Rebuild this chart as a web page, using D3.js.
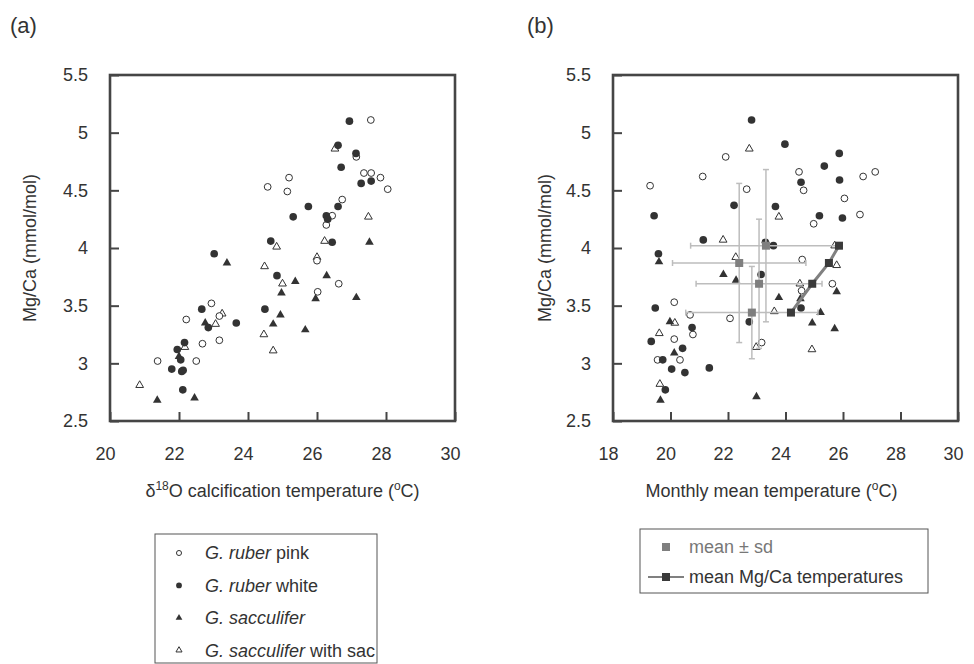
<!DOCTYPE html>
<html><head><meta charset="utf-8">
<script src="https://cdn.jsdelivr.net/npm/d3@7"></script>
<style>body{margin:0;background:#fff}svg{display:block;font-family:"Liberation Sans",Arial,sans-serif}</style>
</head><body><svg id="c" width="974" height="664"></svg>
<script>
// ---- tick values ----
const yTicks = [2.5, 3, 3.5, 4, 4.5, 5, 5.5];
const aXTicks = [20, 22, 24, 26, 28, 30];
const bXTicks = [18, 20, 22, 24, 26, 28, 30];

// ---- panel (a): [d18O calcification temperature, Mg/Ca] ----
const aPink = [[24.57,4.53],[25.19,4.61],[25.14,4.49],[27.56,5.11],[27.14,4.79],[27.36,4.65],[27.57,4.65],[27.84,4.61],[28.05,4.51],[26.73,4.42],[26.44,4.28],[26.27,4.20],[26.0,3.89],[26.63,3.69],[26.02,3.62],[22.94,3.52],[22.21,3.38],[23.17,3.41],[22.68,3.17],[23.17,3.20],[21.38,3.02],[22.50,3.02]];
const aWhite = [[24.66,4.06],[26.94,5.10],[26.61,4.89],[27.13,4.82],[26.70,4.70],[27.28,4.56],[27.57,4.58],[25.75,4.36],[26.61,4.36],[25.31,4.27],[26.27,4.28],[26.31,4.25],[26.44,4.05],[23.02,3.95],[24.84,3.76],[24.49,3.47],[22.66,3.47],[22.85,3.31],[23.66,3.35],[22.16,3.18],[21.95,3.12],[22.05,3.03],[21.79,2.95],[22.08,2.93],[22.12,2.94],[22.11,2.77]];
const aSacc = [[27.52,4.05],[26.28,3.76],[25.37,3.71],[24.97,3.61],[25.96,3.56],[27.14,3.57],[24.94,3.42],[25.66,3.29],[23.39,3.87],[24.73,3.34],[22.76,3.35],[22.0,3.06],[21.37,2.68],[22.45,2.70]];
const aSac = [[26.52,4.86],[27.49,4.27],[26.22,4.06],[24.83,4.01],[26.0,3.92],[25.0,3.69],[24.48,3.84],[24.46,3.25],[24.73,3.11],[23.25,3.43],[23.06,3.34],[22.17,3.14],[20.86,2.81]];

// ---- panel (b): [monthly mean temperature, Mg/Ca] ----
const bPink = [[21.92,4.79],[21.12,4.62],[19.29,4.54],[22.65,4.51],[24.47,4.66],[27.12,4.66],[26.70,4.62],[24.63,4.50],[26.05,4.43],[26.59,4.29],[24.98,4.21],[24.58,3.90],[25.63,3.69],[24.56,3.63],[23.17,3.18],[20.68,3.42],[22.07,3.39],[20.13,3.53],[20.78,3.25],[20.13,3.21],[19.55,3.03],[20.33,3.03]];
const bWhite = [[22.82,5.11],[22.21,4.37],[19.43,4.28],[21.14,4.07],[23.30,4.05],[23.98,4.90],[25.87,4.82],[25.35,4.71],[24.54,4.57],[25.88,4.59],[23.65,4.36],[25.18,4.28],[25.98,4.26],[23.58,4.02],[19.58,3.95],[23.15,3.77],[24.54,3.48],[22.74,3.36],[19.47,3.48],[20.75,3.31],[19.33,3.19],[20.42,3.13],[19.73,3.03],[20.04,2.95],[20.50,2.92],[21.35,2.96],[19.82,2.77]];
const bSacc = [[19.60,3.88],[21.84,3.77],[22.28,3.72],[25.78,3.62],[23.77,3.57],[24.52,3.56],[25.22,3.44],[24.93,3.35],[25.71,3.30],[19.98,3.36],[20.13,3.09],[19.65,2.68],[22.99,2.71]];
const bSac = [[22.74,4.86],[21.83,4.07],[23.77,4.27],[25.71,4.02],[22.27,3.92],[25.78,3.85],[24.50,3.69],[23.61,3.45],[24.92,3.12],[20.15,3.35],[19.61,3.26],[22.98,3.14],[19.63,2.82]];

// mean ± sd (gray) and mean Mg/Ca temperatures (dark)
const meanT = [23.32, 22.39, 23.08, 22.83];
const sdT   = [2.62, 2.32, 2.19, 2.30];
const meanMg = [4.02, 3.87, 3.69, 3.44];
const sdMg  = [0.66, 0.69, 0.56, 0.40];
const mgTemp = [25.86, 25.51, 24.93, 24.19];

const INK = "#333", FRAME = "#454545";
const svg = d3.select("#c");
const fmt = d3.format("~g");

function drawPoints(g, x, y, data, kind) {
  const sel = g.append("g").selectAll("path").data(data).join("path")
    .attr("transform", d => `translate(${x(d[0])},${y(d[1])})`);
  if (kind === "openCircle") sel.attr("d", d3.symbol(d3.symbolCircle, 36)).attr("fill", "#fff").attr("stroke", INK).attr("stroke-width", 1);
  if (kind === "fillCircle") sel.attr("d", d3.symbol(d3.symbolCircle, 46)).attr("fill", INK);
  if (kind === "fillTri") sel.attr("d", d3.symbol(d3.symbolTriangle, 32)).attr("fill", INK);
  if (kind === "openTri") sel.attr("d", d3.symbol(d3.symbolTriangle, 26)).attr("fill", "#fff").attr("stroke", INK).attr("stroke-width", 1);
}

function panel(cfg) {
  const x = d3.scaleLinear().domain(cfg.xd).range(cfg.xr);
  const y = d3.scaleLinear().domain([2.5, 5.5]).range([421, 75]);
  const g = svg.append("g");
  const ax = g.append("g").attr("transform", "translate(0,421)")
    .call(d3.axisBottom(x).tickValues(cfg.xt).tickFormat(fmt).tickSizeInner(-9).tickSizeOuter(0).tickPadding(26));
  ax.selectAll("text").attr("dx", cfg.xdx);
  const ay = g.append("g").attr("transform", `translate(${cfg.xr[0]},0)`)
    .call(d3.axisLeft(y).tickValues(yTicks).tickFormat(fmt).tickSizeInner(-9).tickSizeOuter(0).tickPadding(22));
  [ax, ay].forEach(a => {
    a.select(".domain").remove();
    a.selectAll("line").attr("stroke", FRAME).attr("stroke-width", 2);
    a.selectAll("text").attr("fill", INK).style("font-size", "18px").style("font-family", '"Liberation Sans",Arial,sans-serif');
  });
  g.append("rect").attr("x", cfg.xr[0]).attr("y", 75).attr("width", cfg.xr[1] - cfg.xr[0]).attr("height", 346)
    .attr("fill", "none").attr("stroke", FRAME).attr("stroke-width", 2.6);
  g.append("text").attr("transform", `translate(${cfg.ytx},248) rotate(-90)`).attr("text-anchor", "middle")
    .attr("dy", "0.35em").attr("fill", INK).style("font-size", "18px").text("Mg/Ca (mmol/mol)");
  const xt = g.append("text").attr("x", (cfg.xr[0] + cfg.xr[1]) / 2 + cfg.xtdx).attr("y", 497).attr("text-anchor", "middle")
    .attr("fill", INK).style("font-size", "18px");
  cfg.xtitle(xt);
  g.append("text").attr("x", cfg.lx).attr("y", 33).attr("fill", INK).style("font-size", "22px").text(cfg.letter);
  return { g, x, y };
}

// ---- panel (a) ----
const A = panel({
  xd: [20, 30], xr: [110, 455], xt: aXTicks, xdx: -5, ytx: 30, xtdx: 0, lx: 10, letter: "(a)",
  xtitle: t => {
    t.append("tspan").text("δ");
    t.append("tspan").attr("dy", -7).style("font-size", "12px").text("18");
    t.append("tspan").attr("dy", 7).text("O calcification temperature (");
    t.append("tspan").attr("dy", -7).style("font-size", "12px").text("o");
    t.append("tspan").attr("dy", 7).text("C)");
  }
});
drawPoints(A.g, A.x, A.y, aSac, "openTri");
drawPoints(A.g, A.x, A.y, aPink, "openCircle");
drawPoints(A.g, A.x, A.y, aSacc, "fillTri");
drawPoints(A.g, A.x, A.y, aWhite, "fillCircle");

// ---- panel (b) ----
const B = panel({
  xd: [18, 30], xr: [613, 958], xt: bXTicks, xdx: -5, ytx: 545, xtdx: -14, lx: 527, letter: "(b)",
  xtitle: t => {
    t.append("tspan").text("Monthly mean temperature (");
    t.append("tspan").attr("dy", -7).style("font-size", "12px").text("o");
    t.append("tspan").attr("dy", 7).text("C)");
  }
});
drawPoints(B.g, B.x, B.y, bSac, "openTri");
drawPoints(B.g, B.x, B.y, bPink, "openCircle");
drawPoints(B.g, B.x, B.y, bSacc, "fillTri");
drawPoints(B.g, B.x, B.y, bWhite, "fillCircle");

const stats = meanT.map((t, i) => ({ t, st: sdT[i], m: meanMg[i], sm: sdMg[i], mt: mgTemp[i] }));
const eb = B.g.append("g").attr("stroke", "#bdbdbd").attr("stroke-width", 1.5).attr("fill", "none");
stats.forEach(d => {
  const cx = B.x(d.t), cy = B.y(d.m);
  const xl = B.x(d.t - d.st), xh = B.x(d.t + d.st), yl = B.y(d.m - d.sm), yh = B.y(d.m + d.sm);
  eb.append("line").attr("x1", xl).attr("x2", xh).attr("y1", cy).attr("y2", cy);
  eb.append("line").attr("x1", cx).attr("x2", cx).attr("y1", yl).attr("y2", yh);
  eb.append("line").attr("x1", xl).attr("x2", xl).attr("y1", cy - 3).attr("y2", cy + 3);
  eb.append("line").attr("x1", xh).attr("x2", xh).attr("y1", cy - 3).attr("y2", cy + 3);
  eb.append("line").attr("x1", cx - 3).attr("x2", cx + 3).attr("y1", yl).attr("y2", yl);
  eb.append("line").attr("x1", cx - 3).attr("x2", cx + 3).attr("y1", yh).attr("y2", yh);
});
B.g.append("g").selectAll("rect").data(stats).join("rect")
  .attr("x", d => B.x(d.t) - 4).attr("y", d => B.y(d.m) - 4).attr("width", 8).attr("height", 8).attr("fill", "#7f7f7f");
B.g.append("path").datum(stats)
  .attr("d", d3.line().x(d => B.x(d.mt)).y(d => B.y(d.m)))
  .attr("fill", "none").attr("stroke", "#808080").attr("stroke-width", 3);
B.g.append("g").selectAll("rect").data(stats).join("rect")
  .attr("x", d => B.x(d.mt) - 4).attr("y", d => B.y(d.m) - 4).attr("width", 8).attr("height", 8).attr("fill", "#3a3a3a");

// ---- legend (a) ----
const legA = svg.append("g");
legA.append("rect").attr("x", 155).attr("y", 534).attr("width", 222).attr("height", 129)
  .attr("fill", "none").attr("stroke", "#555").attr("stroke-width", 1);
const legItems = [
  { kind: "openCircle", it: "G. ruber", rest: " pink" },
  { kind: "fillCircle", it: "G. ruber", rest: " white" },
  { kind: "fillTri", it: "G. sacculifer", rest: "" },
  { kind: "openTri", it: "G. sacculifer", rest: " with sac" }
];
const legSym = { openCircle: [d3.symbolCircle, 20, "#fff", INK], fillCircle: [d3.symbolCircle, 26, INK, "none"], fillTri: [d3.symbolTriangle, 20, INK, "none"], openTri: [d3.symbolTriangle, 16, "#fff", INK] };
legItems.forEach((d, i) => {
  const cy = 553 + i * 32.4;
  const s = legSym[d.kind];
  legA.append("path").attr("transform", `translate(179,${cy})`).attr("d", d3.symbol(s[0], s[1]))
    .attr("fill", s[2]).attr("stroke", s[3]).attr("stroke-width", 1);
  const t = legA.append("text").attr("x", 205).attr("y", cy).attr("dy", "0.35em").attr("fill", INK).style("font-size", "18px");
  t.append("tspan").style("font-style", "italic").text(d.it);
  if (d.rest) t.append("tspan").text(d.rest);
});

// ---- legend (b) ----
const legB = svg.append("g");
legB.append("rect").attr("x", 640).attr("y", 529).attr("width", 288).attr("height", 64)
  .attr("fill", "none").attr("stroke", "#555").attr("stroke-width", 1);
legB.append("rect").attr("x", 662).attr("y", 543).attr("width", 8).attr("height", 8).attr("fill", "#7f7f7f");
legB.append("text").attr("x", 689).attr("y", 547).attr("dy", "0.35em").attr("fill", "#777").style("font-size", "18px").text("mean ± sd");
legB.append("line").attr("x1", 648).attr("x2", 684).attr("y1", 577).attr("y2", 577).attr("stroke", "#808080").attr("stroke-width", 2);
legB.append("rect").attr("x", 662).attr("y", 573).attr("width", 8).attr("height", 8).attr("fill", "#3a3a3a");
legB.append("text").attr("x", 689).attr("y", 577).attr("dy", "0.35em").attr("fill", INK).style("font-size", "18px").text("mean Mg/Ca temperatures");
</script></body></html>
